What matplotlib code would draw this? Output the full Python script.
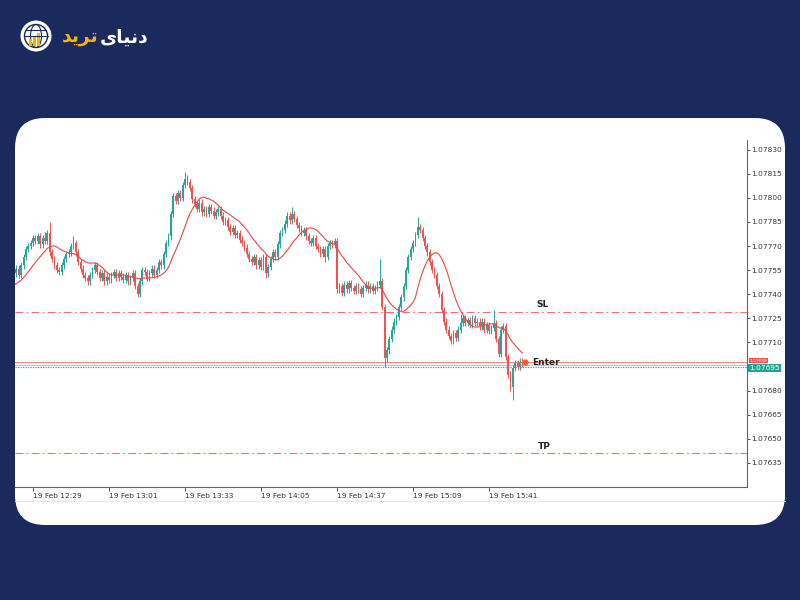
import numpy as np
import pandas as pd
import matplotlib
matplotlib.use('Agg')
import matplotlib.pyplot as plt
from matplotlib.patches import FancyBboxPatch, Circle, Ellipse, Rectangle
from matplotlib.lines import Line2D

# closes in points above 1.07000 (1 point = 0.00001), one candle per minute from 12:21
close_pts = [
    753, 756, 752, 758, 763, 768, 770, 772, 775, 773, 776, 771, 775, 773, 778,
    766, 762, 758, 755, 754, 758, 762, 765, 766, 770, 772,
    766, 760, 756, 752, 750, 748, 752, 755, 758, 754,
    750, 753, 748, 751, 749, 752, 754, 750, 753, 751,
    749, 752, 748, 750, 753, 745, 740, 748, 755,
    754, 750, 753, 756, 752, 755, 760, 758, 765, 772, 776,
    790, 801, 798, 803, 800, 808, 812, 810, 806, 799,
    796, 793, 797, 791, 793, 790, 794, 792, 789, 791,
    793, 789, 785, 786, 782, 779, 781, 777, 778, 774,
    772, 769, 765, 762, 760, 763, 758, 761, 757, 763, 753,
    757, 762, 766, 763, 771, 778, 780, 784, 789, 786, 790,
    787, 783, 781, 778, 780, 776, 773, 772, 775, 770, 768,
    765, 768, 763, 770, 772, 771, 773, 743,
    745, 741, 746, 743, 747, 744, 742, 745, 743, 740, 744, 746, 743, 745, 742,
    744, 746, 748, 732, 700, 705, 712, 718, 723, 726, 732, 738,
    745, 755, 763, 768, 772, 777, 782, 780, 775, 770, 766,
    760, 755, 752, 745, 740, 730, 723, 718, 714, 711, 716, 713,
    718, 722, 725, 722, 724, 721, 725, 722, 723, 720, 723, 718, 721,
    717, 719, 722, 712, 703, 718, 720, 701, 690, 682,
    694, 697, 695, 698, 697,
]
first_open_pt = 750
prior_close_pts = [738, 740, 742, 741, 744, 743, 745, 747, 746, 748, 750, 749, 751]

# notable wicks (candle index -> point)
high_pts = {15: 785, 25: 776, 68: 803, 72: 816, 117: 794, 154: 762,
            170: 788, 202: 730, 13: 779, 188: 728}
low_pts = {52: 738, 106: 750, 156: 695, 184: 709, 209: 680, 210: 674, 131: 760}

tick_idx = [8, 40, 72, 104, 136, 168, 200]
tick_labels = ['19 Feb 12:29', '19 Feb 13:01', '19 Feb 13:33', '19 Feb 14:05',
               '19 Feb 14:37', '19 Feb 15:09', '19 Feb 15:41']
price_ticks = [1.07635, 1.07650, 1.07665, 1.07680, 1.07695, 1.07710, 1.07725,
               1.07740, 1.07755, 1.07770, 1.07785, 1.07800, 1.07815, 1.07830]

sl_price = 1.07729
tp_price = 1.07641
enter_price = 1.07698
ask_price = 1.07696
bid_price = 1.07695

closes = 1.07 + np.array(close_pts) / 1e5
opens = np.concatenate([[1.07 + first_open_pt / 1e5], closes[:-1]])
wick = 2e-5
highs = np.maximum(opens, closes) + wick
lows = np.minimum(opens, closes) - wick
for k, v in high_pts.items():
    highs[k] = 1.07 + v / 1e5
for k, v in low_pts.items():
    lows[k] = 1.07 + v / 1e5

all_closes = pd.Series(np.concatenate([1.07 + np.array(prior_close_pts) / 1e5, closes]))
ma = all_closes.rolling(14).mean().values[len(prior_close_pts):]

navy = '#1a2a5c'
bull = '#26a69a'
bear = '#ef5350'

fig = plt.figure(figsize=(8, 6), dpi=100, facecolor=navy)

# white rounded panel (inches)
panel = FancyBboxPatch((0.15, 0.75), 7.70, 4.07,
                       boxstyle='round,pad=0,rounding_size=0.3',
                       transform=fig.dpi_scale_trans, facecolor='white',
                       edgecolor='none', zorder=-2)
fig.patches.append(panel)
fig.lines.append(Line2D([15 / 800, 785 / 800], [1 - 501 / 600] * 2,
                        transform=fig.transFigure, color='#e6e6e6', lw=0.6, zorder=-1))

ax = fig.add_axes([15 / 800, 1 - 487 / 600, 732 / 800, 347 / 600])
ax.set_zorder(2)
ax.set_facecolor('none')

x = np.arange(len(closes))
up = closes >= opens
colors = np.where(up, bull, bear)
ax.vlines(x, lows, highs, colors=colors, lw=0.7, zorder=2)
body_h = np.maximum(np.abs(closes - opens), 0.5e-5)
ax.bar(x, body_h, bottom=np.minimum(opens, closes), width=0.78,
       color=colors, linewidth=0, zorder=3)
ax.plot(x, ma, color='#e8474a', lw=0.8, zorder=4)

ax.axhline(sl_price, color='#f27070', lw=0.8, dashes=(7, 3, 1.5, 3), zorder=1)
ax.axhline(tp_price, color='#f27070', lw=0.8, dashes=(7, 3, 1.5, 3), zorder=1)
ax.axhline(enter_price, color='#f08a8a', lw=0.8, zorder=1)
ax.axhline(ask_price, color='#f4a0a0', lw=0.6, zorder=1)
ax.axhline(bid_price, color='#2aa890', lw=0.9, ls=(0, (1, 1)), zorder=1)

ax.plot([215], [enter_price - 0.5e-5], 'o', color='#ff5a2a', ms=3.5, zorder=5)
ax.text(218, enter_price - 0.3e-5, 'Enter', fontsize=6.5, fontweight='bold',
        va='center', ha='left', color='#222222')
ax.text(220, sl_price + 1.5e-5, 'SL', fontsize=6.5, fontweight='bold',
        va='bottom', ha='left', color='#222222')
ax.text(220.5, tp_price + 1.5e-5, 'TP', fontsize=6.5, fontweight='bold',
        va='bottom', ha='left', color='#222222')

ax.set_xlim(0.4, 308.6)
ax.set_ylim(1.07620, 1.07836)

for s in ['top', 'left']:
    ax.spines[s].set_visible(False)
for s in ['right', 'bottom']:
    ax.spines[s].set_color('#666666')
    ax.spines[s].set_linewidth(0.8)

ax.yaxis.tick_right()
ax.set_yticks(price_ticks)
ax.set_yticklabels(['%.5f' % p for p in price_ticks])
ax.tick_params(axis='y', labelsize=5.3, colors='#333333', length=2, width=0.6, pad=1)
ax.set_xticks(tick_idx)
ax.set_xticklabels(tick_labels)
ax.tick_params(axis='x', labelsize=5.3, colors='#333333', length=3, width=0.6, pad=1.5)
for lbl in ax.get_xticklabels():
    lbl.set_ha('left')

# the bid tag sits over the 1.07695 tick label, so hide that one
for lbl, p in zip(ax.get_yticklabels(), price_ticks):
    if abs(p - bid_price) < 1e-7:
        lbl.set_visible(False)

ytr = ax.get_yaxis_transform()
ax.text(1.003, enter_price + 0.5e-5, '1.07698', transform=ytr, fontsize=3.2,
        color='white', va='center', ha='left', clip_on=False, zorder=6,
        bbox=dict(boxstyle='square,pad=0.1', fc=bear, ec='none'))
ax.text(1.003, bid_price - 0.7e-5, '1.07695', transform=ytr, fontsize=5.3,
        color='white', va='center', ha='left', clip_on=False, zorder=7,
        bbox=dict(boxstyle='square,pad=0.12', fc='#1fa590', ec='none'))

# logo
tr = fig.dpi_scale_trans
cx, cy = 0.36, 6 - 0.36
fig.patches.append(Circle((cx, cy), 0.155, transform=tr, fc='white', ec='none'))
fig.patches.append(Circle((cx, cy), 0.115, transform=tr, fc='none', ec=navy, lw=1.0))
fig.patches.append(Ellipse((cx, cy), 0.11, 0.23, transform=tr, fc='none', ec=navy, lw=0.8))
fig.lines.append(Line2D([cx - 0.115, cx + 0.115], [cy, cy], transform=tr, color=navy, lw=0.8))
fig.lines.append(Line2D([cx - 0.1, cx + 0.1], [cy + 0.06, cy + 0.06], transform=tr, color=navy, lw=0.8))
for dx, h in [(-0.07, 0.07), (-0.03, 0.10), (0.01, 0.13)]:
    fig.patches.append(Rectangle((cx + dx, cy - 0.1), 0.03, h, transform=tr,
                                 fc='#f5b400', ec='none'))
fig.text(62 / 800, 1 - 37 / 600, '\uFEAA\uFEF3\uFEAE\uFE97', fontsize=13.5,
         fontweight='bold', color='#f5b400', va='center', ha='left',
         family='DejaVu Sans')
fig.text(100 / 800, 1 - 37 / 600, '\uFEEF\uFE8E\uFEF4\uFEE7\uFEA9', fontsize=13.5,
         fontweight='bold', color='white', va='center', ha='left',
         family='DejaVu Sans')

fig.savefig('out.png', dpi=100, facecolor=navy)
